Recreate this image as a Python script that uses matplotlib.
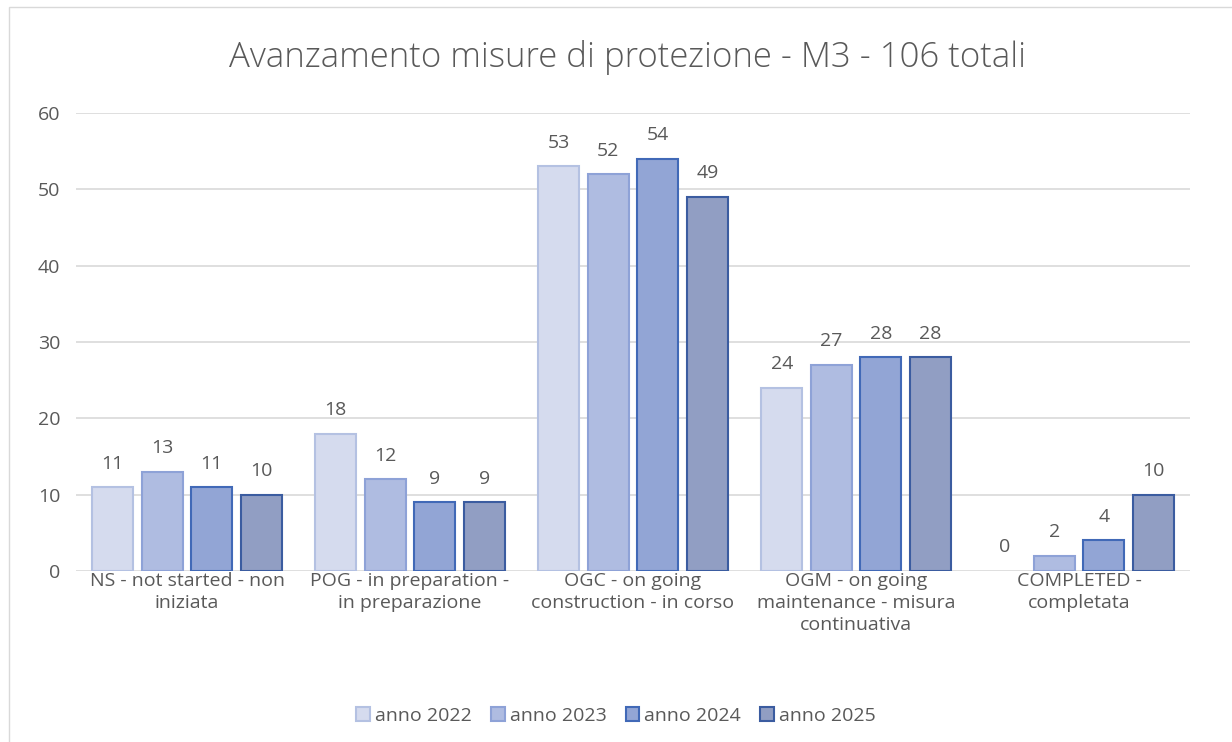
import matplotlib.pyplot as plt
import numpy as np
from matplotlib.patches import Rectangle

plt.rcParams['font.family'] = ['Open Sans', 'DejaVu Sans']

categories = ["NS - not started - non\niniziata",
              "POG - in preparation -\nin preparazione",
              "OGC - on going\nconstruction - in corso",
              "OGM - on going\nmaintenance - misura\ncontinuativa",
              "COMPLETED -\ncompletata"]
series_names = ["anno 2022", "anno 2023", "anno 2024", "anno 2025"]
v2022 = [11, 18, 53, 24, 0]
v2023 = [13, 12, 52, 27, 2]
v2024 = [11, 9, 54, 28, 4]
v2025 = [10, 9, 49, 28, 10]
values = [v2022, v2023, v2024, v2025]

fills = ["#D5DBEE", "#AFBCE1", "#92A5D5", "#919EC3"]
edges = ["#B4C1E2", "#8EA2D7", "#4169B7", "#3B5CA0"]
text_gray = "#595959"

fig = plt.figure(figsize=(12.32, 7.42), dpi=100)
fig.patches.append(Rectangle((0.007, -0.01), 1.0, 1.0, transform=fig.transFigure,
                             fill=False, edgecolor="#D9D9D9", lw=1))
ax = fig.add_axes([0.0613, 0.2305, 0.905, 0.6172])

x = np.arange(len(categories))
step = 0.222
width = 0.184
for i, (vals, fc, ec, name) in enumerate(zip(values, fills, edges, series_names)):
    pos = x + (i - 1.5) * step
    lws = [1.5 if v > 0 else 0 for v in vals]
    ax.bar(pos, vals, width, color=fc, edgecolor=ec, linewidth=lws, label=name, zorder=3)
    for p, v in zip(pos, vals):
        ax.text(p, v + 1.9, str(v), ha="center", va="bottom", fontsize=14, color=text_gray)

ax.set_xlim(-0.5, len(categories) - 0.5)
ax.set_ylim(0, 60)
ax.set_yticks(range(0, 61, 10))
ax.yaxis.grid(True, color="#D9D9D9", lw=1.2, zorder=0)
ax.set_axisbelow(True)
for s in ax.spines.values():
    s.set_visible(False)
ax.tick_params(length=0, labelsize=14, labelcolor=text_gray)
ax.tick_params(axis="y", pad=11)
ax.set_xticks(x)
ax.set_xticklabels(categories, fontsize=14, linespacing=1.28)
ax.tick_params(axis="x", pad=1)

fig.text(0.509, 0.922, "Avanzamento misure di protezione - M3 - 106 totali",
         ha="center", va="center", fontsize=25, color=text_gray, fontweight="light")

ax.legend(loc="center", bbox_to_anchor=(0.5, 0.035), bbox_transform=fig.transFigure,
          ncol=4, frameon=False, fontsize=14, handlelength=0.7, handleheight=0.7,
          handletextpad=0.25, columnspacing=1.0, labelcolor=text_gray)

fig.savefig("out.png", dpi=100, facecolor="white")
